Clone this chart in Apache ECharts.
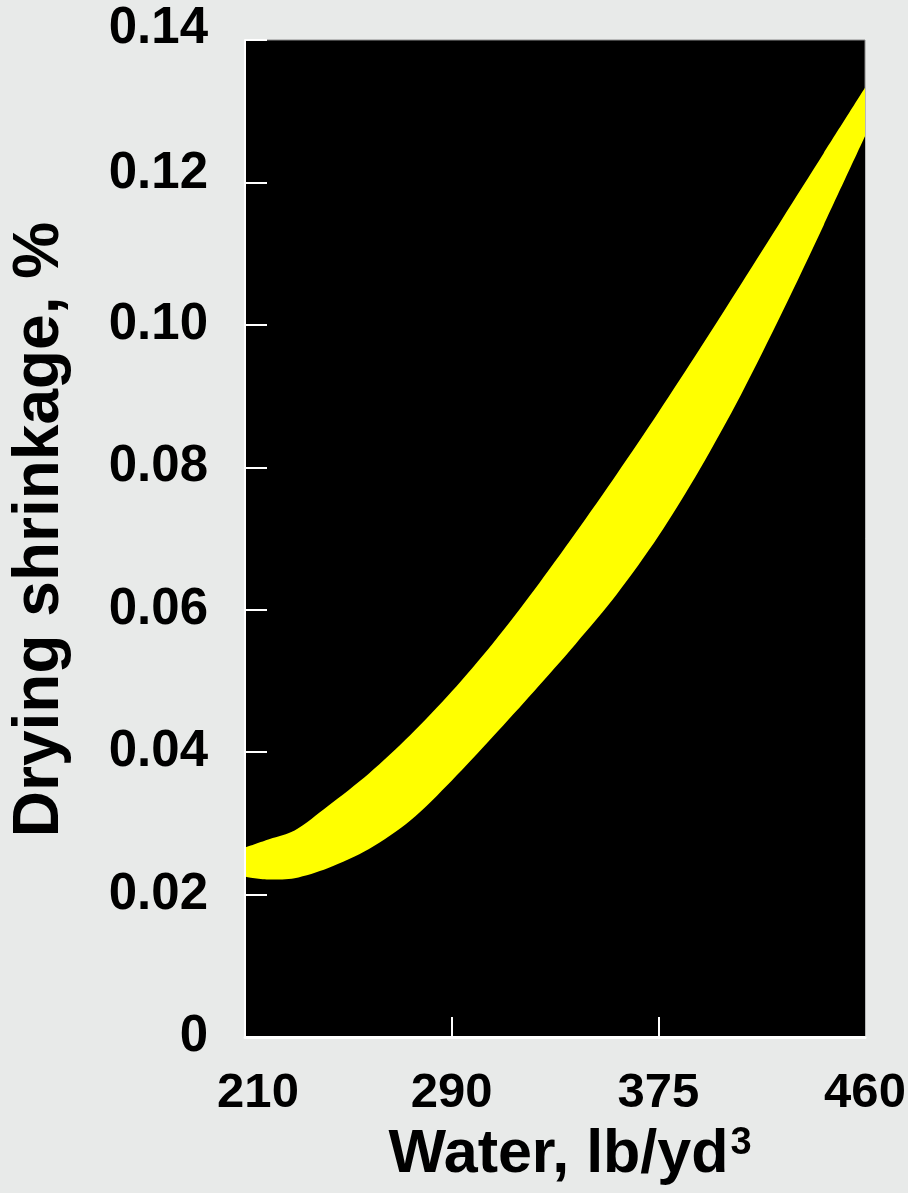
<!DOCTYPE html>
<html>
<head>
<meta charset="utf-8">
<script src="https://cdn.jsdelivr.net/npm/echarts@6/dist/echarts.min.js"></script>
<style>
html,body{margin:0;padding:0;background:#e8eae9;}
#c{width:908px;height:1193px;}
</style>
</head>
<body>
<div id="c"></div>
<script>
// Water content (kg/m3 equivalent, equally spaced axis) sample positions
const waterKg = [125, 131, 137, 145, 155, 165, 175, 185, 195, 205, 215, 225, 235, 245, 255, 265, 275];
// Upper and lower bounds of drying shrinkage band, %
const upperShrink = [0.0266, 0.0278, 0.0290, 0.0324, 0.0370, 0.0424, 0.0485, 0.0553, 0.0628, 0.0708, 0.0791, 0.0877, 0.0966, 0.1057, 0.1149, 0.1241, 0.1333];
const lowerShrink = [0.0225, 0.0221, 0.0223, 0.0237, 0.0264, 0.0304, 0.0360, 0.0422, 0.0486, 0.0552, 0.0622, 0.0703, 0.0797, 0.0902, 0.1018, 0.1140, 0.1265];
// X tick positions and their labels (lb/yd3)
const xTickPos = [125, 175, 225, 275];
const xTickLabels = ['210', '290', '375', '460'];
const xInnerTicks = [175, 225];
// Y axis ticks
const yMin = 0, yMax = 0.14, yStep = 0.02;

const FONT = '"Liberation Sans", Arial, Helvetica, sans-serif';
const chart = echarts.init(document.getElementById('c'), null, {renderer: 'canvas'});

const lblStyle = {color: '#000', fontSize: 51, fontWeight: 'bold', fontFamily: FONT};

chart.setOption({
  animation: false,
  backgroundColor: 'transparent',
  grid: {
    left: 245, right: 43, top: 40, bottom: 156,
    outerBoundsMode: 'none', containLabel: false,
    show: true, backgroundColor: '#000000', borderColor: '#8a8a8a', borderWidth: 1
  },
  xAxis: {
    type: 'value', min: xTickPos[0], max: xTickPos[xTickPos.length - 1], z: 10,
    axisLine: {show: true, onZero: false, lineStyle: {color: '#ffffff', width: 3}},
    axisTick: {show: true, inside: true, length: 20, customValues: xInnerTicks, lineStyle: {color: '#ffffff', width: 2}},
    axisLabel: {
      customValues: xTickPos,
      formatter: function (v) {
        const i = xTickPos.indexOf(v);
        if (i < 0) return '';
        return i === 0 ? '{first|' + xTickLabels[i] + '}' : xTickLabels[i];
      },
      margin: 32, color: '#000', fontSize: 49, fontWeight: 'bold', fontFamily: FONT,
      rich: {first: {padding: [0, 0, 0, 26], color: '#000', fontSize: 49, fontWeight: 'bold', fontFamily: FONT}}
    },
    splitLine: {show: false},
    name: '{t|Water, lb/yd}{sup|3}', nameLocation: 'middle', nameGap: 86,
    nameTextStyle: {
      color: '#000', fontSize: 61, fontWeight: 'bold', fontFamily: FONT, padding: [0, 0, 0, 30],
      rich: {
        t: {color: '#000', fontSize: 61, fontWeight: 'bold', fontFamily: FONT, lineHeight: 64},
        sup: {color: '#000', fontSize: 38, fontWeight: 'bold', fontFamily: FONT, verticalAlign: 'top', lineHeight: 40, padding: [2, 0, 0, 2]}
      }
    }
  },
  yAxis: {
    type: 'value', min: yMin, max: yMax, interval: yStep, z: 10,
    axisLine: {show: true, lineStyle: {color: '#ffffff', width: 2}},
    axisTick: {show: true, inside: true, length: 22, lineStyle: {color: '#ffffff', width: 2}},
    axisLabel: {
      formatter: function (v) {
        if (Math.abs(v) < 1e-9) return '0';
        const s = v.toFixed(2);
        if (Math.abs(v - yMax) < 1e-9) return '{top|' + s + '}';
        if (Math.abs(v - (yMax - yStep)) < 1e-9) return '{top2|' + s + '}';
        return s;
      },
      margin: 37, color: '#000', fontSize: 51, fontWeight: 'bold', fontFamily: FONT,
      rich: {
        top: Object.assign({padding: [0, 0, 22, 0]}, lblStyle),
        top2: Object.assign({padding: [0, 0, 16, 0]}, lblStyle)
      }
    },
    splitLine: {show: false},
    name: 'Drying shrinkage, %', nameLocation: 'middle', nameRotate: 90, nameGap: 173,
    nameTextStyle: {color: '#000', fontSize: 64, fontWeight: 'bold', fontFamily: FONT, padding: [0, 0, 0, 18]}
  },
  series: [
    {
      name: 'upper', type: 'line', symbol: 'none', smooth: 0.3, silent: true, z: 2,
      lineStyle: {width: 0, opacity: 0},
      areaStyle: {color: '#ffff00', opacity: 1},
      data: waterKg.map((x, i) => [x, upperShrink[i]])
    },
    {
      name: 'lower', type: 'line', symbol: 'none', smooth: 0.3, silent: true, z: 3,
      lineStyle: {width: 0, opacity: 0},
      areaStyle: {color: '#000000', opacity: 1},
      data: waterKg.map((x, i) => [x, lowerShrink[i]])
    }
  ]
});
</script>
</body>
</html>
